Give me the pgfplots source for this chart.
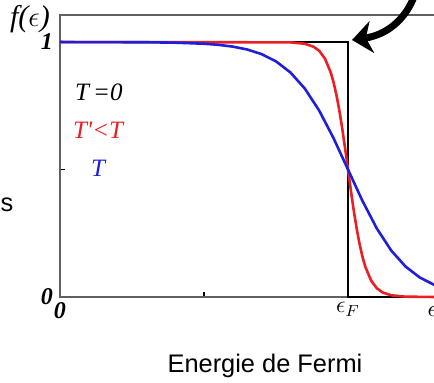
\documentclass[border=0pt]{standalone}
\usepackage{pgfplots}
\pgfplotsset{compat=1.18}
\usepackage{fontspec}
\setmainfont{Liberation Serif}
\newfontfamily\arialfont{Liberation Sans}
\usetikzlibrary{arrows.meta}
\definecolor{fdred}{RGB}{235,30,35}
\definecolor{fdblue}{RGB}{30,30,220}
\begin{document}
\begin{tikzpicture}
\useasboundingbox (0,0) rectangle (217pt,191pt);
\clip (0,0) rectangle (217pt,191pt);
\begin{axis}[
  at={(30pt,42.5pt)}, anchor=south west,
  scale only axis, width=205pt, height=141pt,
  xmin=0, xmax=1.4236, ymin=0, ymax=1.106,
  xtick={0,0.5,1}, xticklabels={0,,$\epsilon_F$},
  ytick={0,0.5,1}, yticklabels={0,,1},
  tick pos=left, tick align=inside,
  major tick length=2.5pt,
  tick style={black, line width=0.6pt},
  ticklabel style={font=\fontsize{12}{14}\selectfont\itshape\bfseries},
  xticklabel style={yshift=1pt},
  axis line style={draw=gray!75!black, line width=0.9pt},
  clip=false,
]
\addplot[black, line width=1.3pt] coordinates {(0,1) (1,1) (1,0) (1.45,0)};
\addplot[fdred, line width=1.3pt] coordinates {
(0,1) (0.8,0.9987) (0.85,0.9933) (0.88,0.9820) (0.90,0.9656) (0.92,0.935)
(0.94,0.8808) (0.95,0.8411) (0.96,0.7914) (0.97,0.7311) (0.98,0.6608) (0.99,0.5826)
(1.00,0.5) (1.01,0.4174) (1.02,0.3392) (1.03,0.2689) (1.04,0.2086) (1.05,0.1589)
(1.06,0.1192) (1.08,0.0650) (1.10,0.0344) (1.12,0.0180) (1.15,0.0067) (1.20,0.0013) (1.30,0.0001) (1.45,0)};
\addplot[fdblue, line width=1.3pt] coordinates {
(0,0.99995) (0.3,0.9991) (0.4,0.9975) (0.5,0.9933) (0.55,0.9890) (0.6,0.9820)
(0.65,0.9707) (0.7,0.9526) (0.75,0.9241) (0.8,0.8808) (0.85,0.8176) (0.9,0.7311)
(0.95,0.6225) (1.0,0.5) (1.05,0.3775) (1.1,0.2689) (1.15,0.1824) (1.2,0.1192)
(1.25,0.0759) (1.3,0.0474) (1.35,0.0293) (1.4,0.0180)};
\node[font=\fontsize{12.5}{14}\selectfont\itshape] at (axis cs:0.135,0.804) {T\,=0};
\node[font=\fontsize{12.5}{14}\selectfont\itshape, text=fdred] at (axis cs:0.132,0.655) {T\textquotesingle<T};
\node[font=\fontsize{12.5}{14}\selectfont\itshape, text=fdblue] at (axis cs:0.132,0.506) {T};
\node[anchor=north west, inner sep=0pt, font=\fontsize{12}{14}\selectfont] at (axis cs:1.275,-0.035) {$\epsilon$};
\end{axis}
\node[font=\fontsize{15}{17}\selectfont\itshape] at (15pt,181.5pt) {f(\ensuremath{\epsilon})};
\node[font=\arialfont\fontsize{12.7}{15}\selectfont] at (132.5pt,8pt) {Energie de Fermi};
\node[font=\arialfont\fontsize{12.7}{15}\selectfont] at (3.5pt,88.5pt) {s};
\draw[line width=3.5pt, -{Stealth[length=10pt,width=16pt,inset=3pt]}]
  (207.5pt,194pt) .. controls (203pt,181pt) and (193pt,173.5pt) .. (176pt,171pt);
\end{tikzpicture}
\end{document}
